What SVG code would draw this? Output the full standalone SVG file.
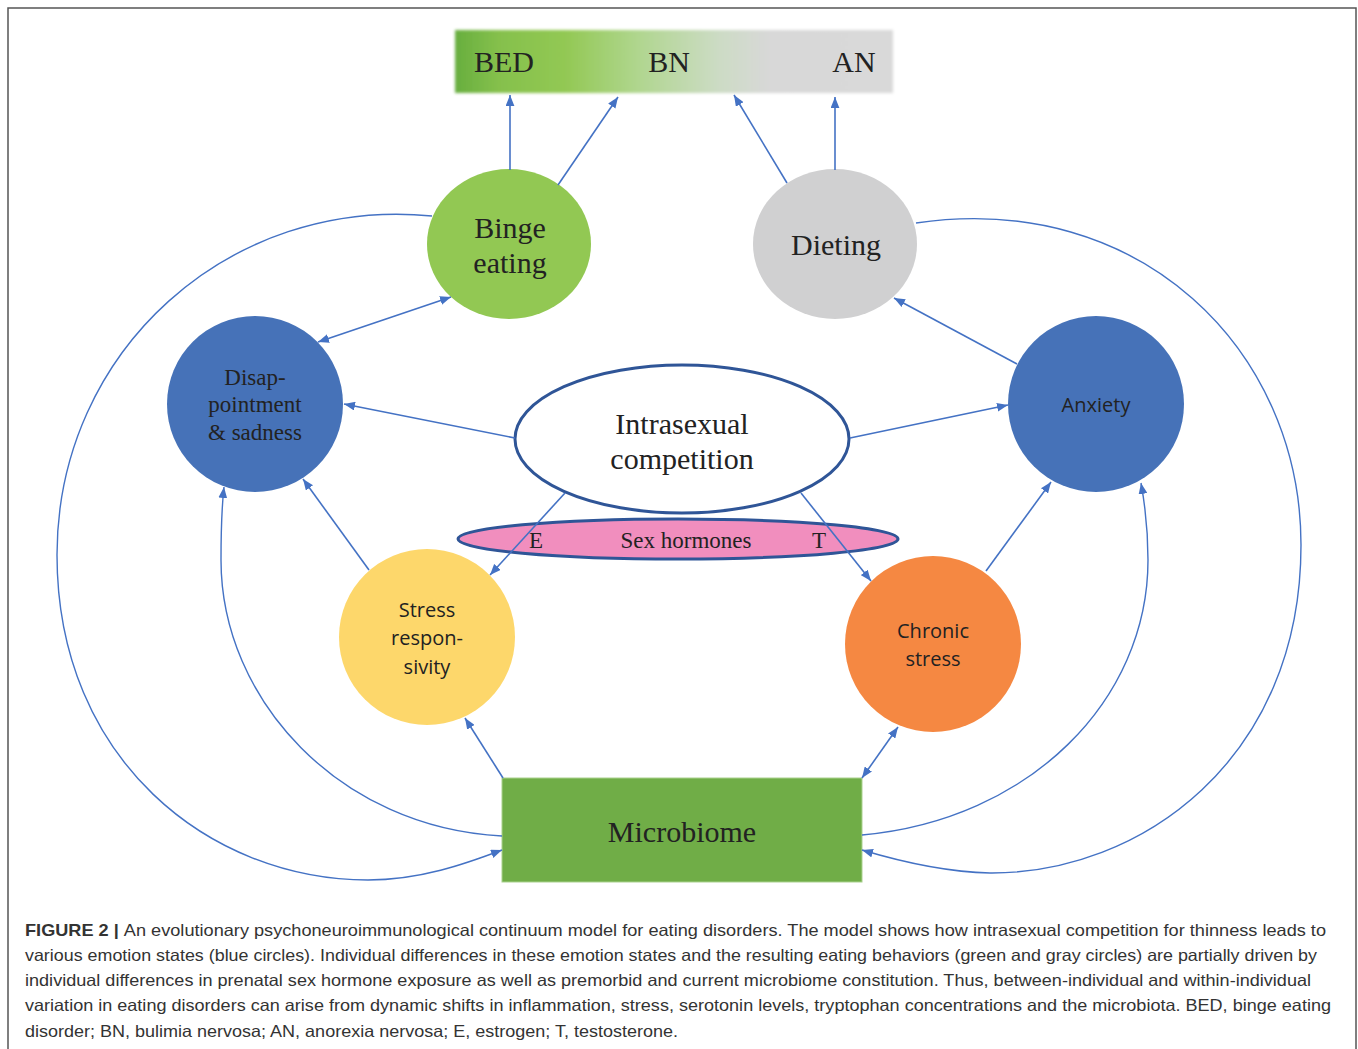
<svg xmlns="http://www.w3.org/2000/svg" width="1358" height="1049" viewBox="0 0 1358 1049">
<style>
.serif{font-family:"Liberation Serif","Times New Roman",serif;fill:#222;text-anchor:middle}
.sans{font-family:"Open Sans","Liberation Sans",sans-serif;fill:#222;text-anchor:middle;font-size:20px}
.conn{fill:none;stroke:#4472C4;stroke-width:1.6}
.curve{fill:none;stroke:#4472C4;stroke-width:1.4}
.cap{font-family:"Liberation Sans",Arial,sans-serif;font-size:16.5px;fill:#333}
</style>
<defs>
<linearGradient id="bar" x1="0" y1="0" x2="1" y2="0">
<stop offset="0" stop-color="#67AE3E"/>
<stop offset="0.1" stop-color="#85C04C"/>
<stop offset="0.25" stop-color="#92C853"/>
<stop offset="0.42" stop-color="#B0D68F"/>
<stop offset="0.6" stop-color="#CCDBC4"/>
<stop offset="0.72" stop-color="#D8D8D8"/>
<stop offset="1" stop-color="#D9D9D9"/>
</linearGradient>
<filter id="soft" x="-5%" y="-20%" width="110%" height="140%"><feGaussianBlur stdDeviation="1.6"/></filter>
<marker id="ah" viewBox="0 0 10 8" refX="10" refY="4" markerWidth="11" markerHeight="9" markerUnits="userSpaceOnUse" orient="auto-start-reverse">
<path d="M0,0 L10,4 L0,8 z" fill="#4472C4"/>
</marker>
</defs>
<rect x="8" y="8" width="1348" height="1070" fill="#fff" stroke="#555" stroke-width="1.5"/>

<g id="spectrum">
<rect x="455" y="30" width="438" height="63" fill="url(#bar)" filter="url(#soft)"/>
<text class="serif" x="504" y="72" font-size="30">BED</text>
<text class="serif" x="669" y="72" font-size="30">BN</text>
<text class="serif" x="854" y="72" font-size="30">AN</text>
</g>

<g id="binge-eating">
<ellipse cx="509" cy="244" rx="82" ry="75" fill="#92C853"/>
<text class="serif" x="510" y="238" font-size="30">Binge</text>
<text class="serif" x="510" y="273" font-size="30">eating</text>
</g>

<g id="dieting">
<ellipse cx="835" cy="244" rx="82" ry="75" fill="#D0D0D1"/>
<text class="serif" x="836" y="255" font-size="30">Dieting</text>
</g>

<g id="disappointment">
<circle cx="255" cy="404" r="88" fill="#4672B8"/>
<text class="serif" x="255" y="385" font-size="23">Disap-</text>
<text class="serif" x="255" y="412" font-size="23">pointment</text>
<text class="serif" x="255" y="440" font-size="23">&amp; sadness</text>
</g>

<g id="anxiety">
<circle cx="1096" cy="404" r="88" fill="#4672B8"/>
<text class="sans" x="1096" y="412">Anxiety</text>
</g>

<g id="intrasexual">
<ellipse cx="682" cy="439" rx="167" ry="74" fill="#fff" stroke="#2F5597" stroke-width="3"/>
<text class="serif" x="682" y="434" font-size="30">Intrasexual</text>
<text class="serif" x="682" y="469" font-size="30">competition</text>
</g>

<g id="sex-hormones">
<ellipse cx="678" cy="539" rx="220" ry="20" fill="#F18EBE" stroke="#2F5597" stroke-width="3"/>
<text class="serif" x="536" y="548" font-size="23">E</text>
<text class="serif" x="686" y="548" font-size="23">Sex hormones</text>
<text class="serif" x="819" y="548" font-size="23">T</text>
</g>

<g id="stress-responsivity">
<circle cx="427" cy="637" r="88" fill="#FDD76B"/>
<text class="sans" x="427" y="617">Stress</text>
<text class="sans" x="427" y="645">respon-</text>
<text class="sans" x="427" y="674">sivity</text>
</g>

<g id="chronic-stress">
<circle cx="933" cy="644" r="88" fill="#F58842"/>
<text class="sans" x="933" y="638">Chronic</text>
<text class="sans" x="933" y="666">stress</text>
</g>

<g id="microbiome">
<rect x="502" y="778" width="360" height="104" fill="#70AD47" stroke="#A9D18E" stroke-width="1"/>
<text class="serif" x="682" y="842" font-size="30">Microbiome</text>
</g>

<g id="connectors">
<line class="conn" x1="510" y1="170" x2="510" y2="95" marker-end="url(#ah)"/>
<line class="conn" x1="558" y1="185" x2="618" y2="97" marker-end="url(#ah)"/>
<line class="conn" x1="787" y1="183" x2="734" y2="95" marker-end="url(#ah)"/>
<line class="conn" x1="835" y1="170" x2="835" y2="97" marker-end="url(#ah)"/>
<line class="conn" x1="318" y1="342" x2="451" y2="297" marker-start="url(#ah)" marker-end="url(#ah)"/>
<line class="conn" x1="1017" y1="364" x2="894" y2="298" marker-end="url(#ah)"/>
<line class="conn" x1="515" y1="438" x2="344" y2="404" marker-end="url(#ah)"/>
<line class="conn" x1="850" y1="438" x2="1008" y2="405" marker-end="url(#ah)"/>
<line class="conn" x1="565" y1="493" x2="490" y2="575" marker-end="url(#ah)"/>
<line class="conn" x1="801" y1="493" x2="871" y2="581" marker-end="url(#ah)"/>
<line class="conn" x1="369" y1="570" x2="303" y2="479" marker-end="url(#ah)"/>
<line class="conn" x1="986" y1="571" x2="1051" y2="482" marker-end="url(#ah)"/>
<line class="conn" x1="503" y1="778" x2="465" y2="718" marker-end="url(#ah)"/>
<line class="conn" x1="862" y1="778" x2="898" y2="727" marker-start="url(#ah)" marker-end="url(#ah)"/>
<path class="curve" d="M502,836 C340,828 221,700 221,560 C221,530 222,505 224,487" marker-end="url(#ah)"/>
<path class="curve" d="M432,216 C230,196 57,350 57,555 C57,760 210,880 368,880 C420,880 465,864 502,850" marker-end="url(#ah)"/>
<path class="curve" d="M862,835 C1030,820 1148,700 1148,560 C1148,530 1145,505 1141,483" marker-end="url(#ah)"/>
<path class="curve" d="M916,223 C1140,190 1301,350 1301,545 C1301,760 1140,874 990,873 C945,872 902,862 862,850" marker-end="url(#ah)"/>
</g>

<g id="caption">
<text class="cap" x="25" y="936" textLength="1301" lengthAdjust="spacingAndGlyphs"><tspan font-weight="bold">FIGURE 2 | </tspan>An evolutionary psychoneuroimmunological continuum model for eating disorders. The model shows how intrasexual competition for thinness leads to</text>
<text class="cap" x="25" y="961" textLength="1292" lengthAdjust="spacingAndGlyphs">various emotion states (blue circles). Individual differences in these emotion states and the resulting eating behaviors (green and gray circles) are partially driven by</text>
<text class="cap" x="25" y="986" textLength="1286" lengthAdjust="spacingAndGlyphs">individual differences in prenatal sex hormone exposure as well as premorbid and current microbiome constitution. Thus, between-individual and within-individual</text>
<text class="cap" x="25" y="1011" textLength="1306" lengthAdjust="spacingAndGlyphs">variation in eating disorders can arise from dynamic shifts in inflammation, stress, serotonin levels, tryptophan concentrations and the microbiota. BED, binge eating</text>
<text class="cap" x="25" y="1037" textLength="653" lengthAdjust="spacingAndGlyphs">disorder; BN, bulimia nervosa; AN, anorexia nervosa; E, estrogen; T, testosterone.</text>
</g>
</svg>
